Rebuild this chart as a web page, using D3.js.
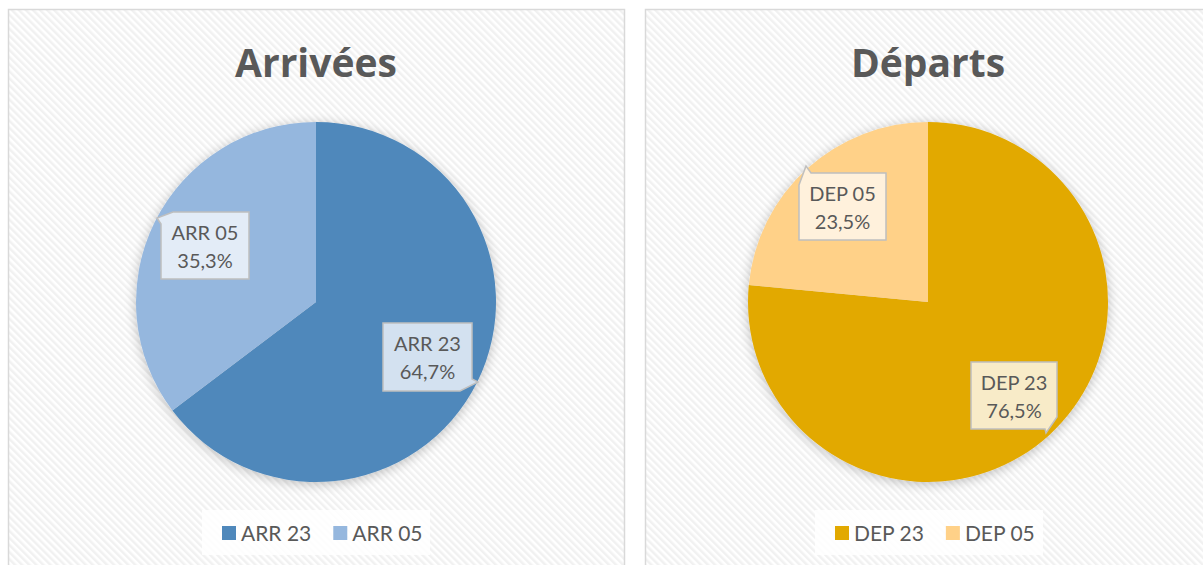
<!DOCTYPE html>
<html><head><meta charset="utf-8">
<script src="https://cdn.jsdelivr.net/npm/d3@7"></script>
<style>body{margin:0;background:#fff;}svg{display:block;}</style>
</head><body>
<script>
const arrCategories = ["ARR 23", "ARR 05"];
const arrValues = [64.7, 35.3];
const depCategories = ["DEP 23", "DEP 05"];
const depValues = [76.5, 23.5];
const titles = ["Arrivées", "Départs"];

const W = 1203, H = 565;
const FONT = "Lato, 'Open Sans', sans-serif";
const svg = d3.select("body").append("svg").attr("width", W).attr("height", H);
const defs = svg.append("defs");
const pat = defs.append("pattern").attr("id","stripes").attr("patternUnits","userSpaceOnUse")
  .attr("width",5).attr("height",5).attr("patternTransform","rotate(-45)");
pat.append("rect").attr("width",5).attr("height",5).attr("fill","#ffffff");
pat.append("rect").attr("width",2.5).attr("height",5).attr("fill","#f1f1f1");
const f = defs.append("filter").attr("id","shadow").attr("x","-20%").attr("y","-20%").attr("width","140%").attr("height","140%");
f.append("feGaussianBlur").attr("in","SourceAlpha").attr("stdDeviation",6).attr("result","b");
f.append("feOffset").attr("in","b").attr("dx",0).attr("dy",2).attr("result","o");
f.append("feComponentTransfer").attr("in","o").attr("result","s").append("feFuncA").attr("type","linear").attr("slope",0.25);
const m = f.append("feMerge"); m.append("feMergeNode").attr("in","s"); m.append("feMergeNode").attr("in","SourceGraphic");

const panels = [
  {x:8, w:616, cx:316, title:titles[0], cats:arrCategories, vals:arrValues, colors:["#4F88BB","#95B7DE"], boxFill:["#D3E1F0","#E3ECF7"],
   boxes:[{x:383,y:323,w:89,h:68,tip:"br",tx:478,ty:382},{x:161,y:212,w:88,h:67,tip:"tl",tx:157,ty:218}],
   legend:{x:202,w:228}},
  {x:645, w:600, cx:928, title:titles[1], cats:depCategories, vals:depValues, colors:["#E2A900","#FFD188"], boxFill:["#F8EBC8","#FFF1DC"],
   boxes:[{x:971,y:362,w:86,h:67,tip:"br",tx:1046,ty:433},{x:799,y:173,w:87,h:67,tip:"tl",tx:806,ty:166}],
   legend:{x:815,w:228}}
];

const cy = 302, R = 180;
panels.forEach(p => {
  const g = svg.append("g");
  g.append("rect").attr("x",p.x+0.5).attr("y",9.5).attr("width",p.w).attr("height",H)
    .attr("fill","url(#stripes)").attr("stroke","#d9d9d9").attr("stroke-width",1.5);
  g.append("text").attr("x",p.cx).attr("y",77).attr("text-anchor","middle")
    .attr("font-family","'Open Sans', sans-serif").attr("font-weight","bold").attr("font-size",39)
    .attr("fill","#595959").text(p.title);
  const pie = d3.pie().sort(null).value(d=>d);
  const arc = d3.arc().innerRadius(0).outerRadius(R);
  const arcs = pie(p.vals);
  const pg = g.append("g").attr("transform",`translate(${p.cx},${cy})`).attr("filter","url(#shadow)");
  pg.selectAll("path").data(arcs).join("path").attr("d",arc).attr("fill",(d,i)=>p.colors[i]);
  p.boxes.forEach((b,i) => {
    let path;
    const x0=b.x,y0=b.y,x1=b.x+b.w,y1=b.y+b.h;
    if (b.tip==="tl") {
      path = `M${x0},${y0+12} L${b.tx},${b.ty} L${x0+12},${y0} L${x1},${y0} L${x1},${y1} L${x0},${y1} Z`;
    } else {
      path = `M${x0},${y0} L${x1},${y0} L${x1},${y1-12} L${b.tx},${b.ty} L${x1-12},${y1} L${x0},${y1} Z`;
    }
    g.append("path").attr("d",path).attr("fill",p.boxFill[i]).attr("stroke","#bfbfbf").attr("stroke-width",1.5);
    const t = g.append("text").attr("text-anchor","middle").attr("font-family",FONT)
      .attr("font-size",20).attr("fill","#595959");
    t.append("tspan").attr("x",(x0+x1)/2).attr("y",y0+28).text(p.cats[i]);
    t.append("tspan").attr("x",(x0+x1)/2).attr("y",y0+56).text(d3.format(".1f")(p.vals[i]).replace(".",",")+"%");
  });
  const lg = g.append("g");
  lg.append("rect").attr("x",p.legend.x).attr("y",510).attr("width",p.legend.w).attr("height",45).attr("fill","#ffffff").attr("opacity",0.85);
  let lx = p.legend.x + 20;
  p.cats.forEach((c,i) => {
    lg.append("rect").attr("x",lx).attr("y",526).attr("width",14).attr("height",14).attr("fill",p.colors[i]);
    const tt = lg.append("text").attr("x",lx+19).attr("y",541).attr("font-family",FONT)
      .attr("font-size",21).attr("fill","#595959").text(c);
    lx += 19 + tt.node().getComputedTextLength() + 22;
  });
});
</script>
</body></html>
